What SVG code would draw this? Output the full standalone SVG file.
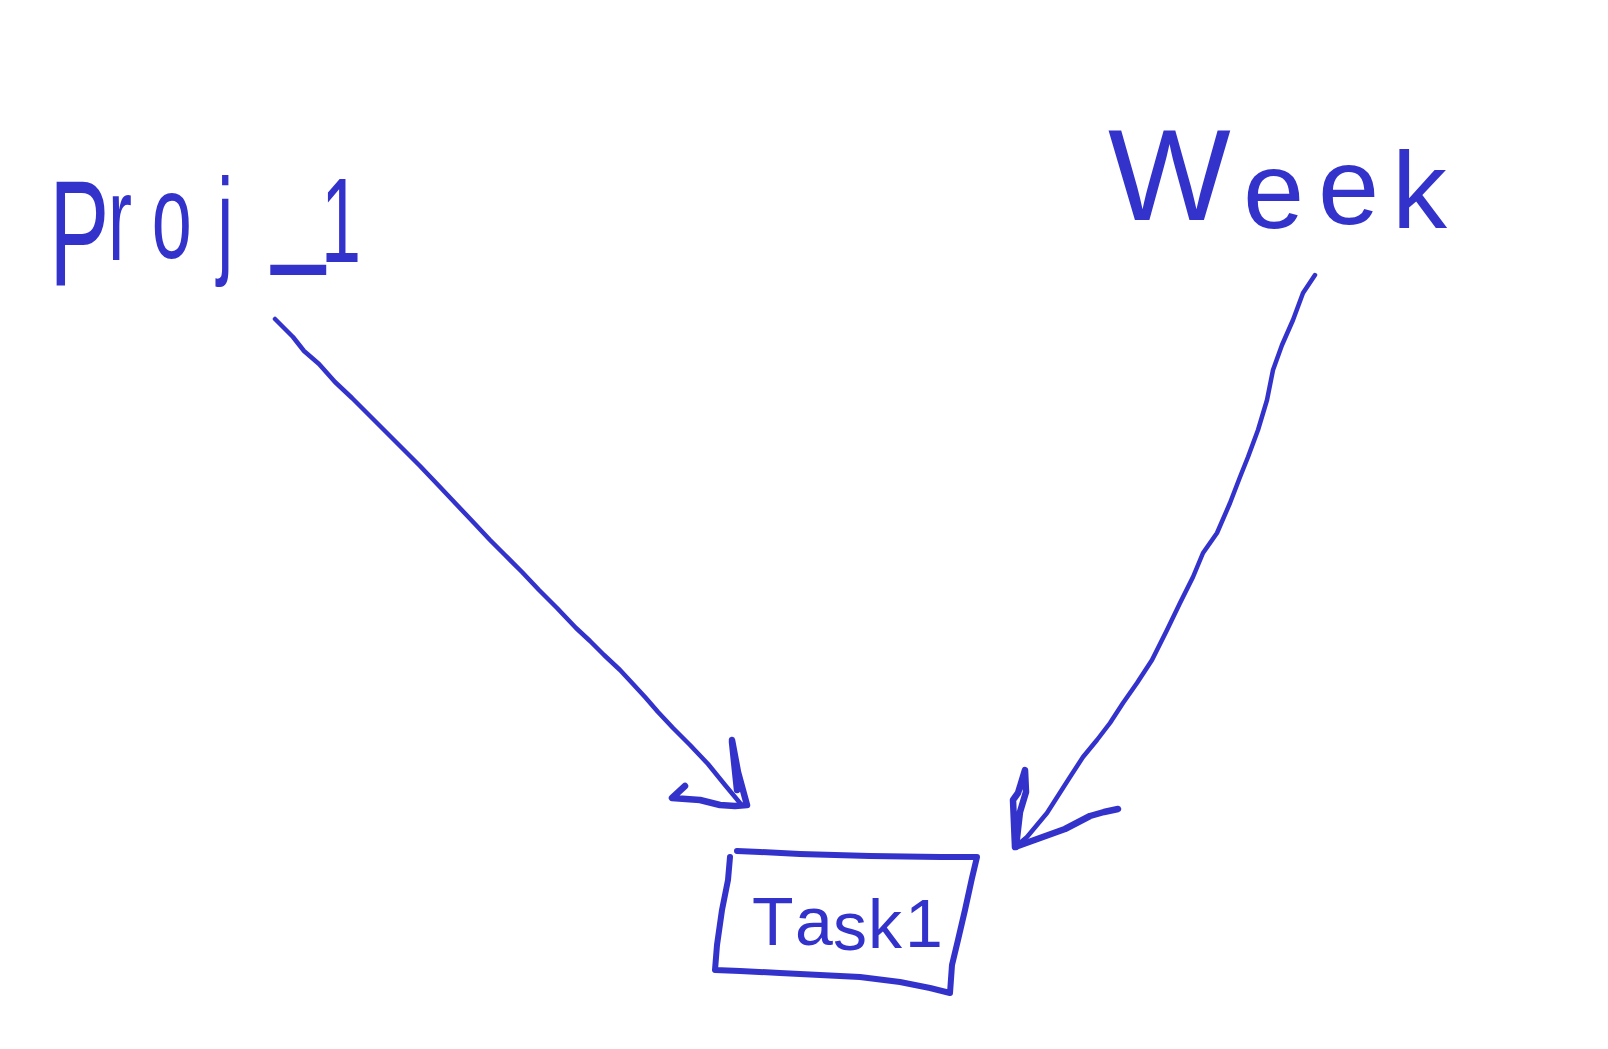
<svg xmlns="http://www.w3.org/2000/svg" width="1608" height="1049" viewBox="0 0 1608 1049">
  <style>
    .ink { fill: none; stroke: #3333cc; stroke-linecap: round; stroke-linejoin: round; }
    .line { stroke-width: 4.5; }
    .head { stroke-width: 6.5; }
    .box { stroke-width: 6; }
    .lbl { fill: #3333cc; font-family: "Liberation Sans", Arial, sans-serif; }
  </style>
  <rect width="1608" height="1049" fill="#ffffff"/>

  <g id="connectors">
    <g id="edge-proj-task">
      <path class="ink line" d="M275,319 L293,337 L304,351 L319,364 L335,382 L352,398 L375,421 L400,446 L420,466 L440,487 L457,505 L475,524 L490,540 L505,555 L522,572 L539,590 L557,608 L576,628 L590,641 L604,655 L620,670 L633,684 L645,697 L658,712 L673,728 L690,745 L708,764 L725,785 L740,803"/>
      <path class="ink head" d="M732,740 L738,772 L747,805 M732,742 L737,790 M685,786 L672,798 L700,800 L720,805 L735,806 L747,805"/>
    </g>
    <g id="edge-week-task">
      <path class="ink line" d="M1315,275 L1303,293 L1293,320 L1282,345 L1273,370 L1267,400 L1258,430 L1248,457 L1240,477 L1230,503 L1217,533 L1203,553 L1193,577 L1180,603 L1167,630 L1152,660 L1137,683 L1123,703 L1110,723 L1097,740 L1083,757 L1070,777 L1047,813 L1027,837 L1015,847"/>
      <path class="ink head" d="M1015,847 L1013,800 L1018,793 L1025,770 L1026,792 L1020,812 L1016,847 M1015,847 L1040,838 L1065,829 L1090,816 L1104,812 L1118,809"/>
    </g>
  </g>

  <g id="node-proj">
    <text class="lbl" font-size="120" transform="scale(0.6 1)"><tspan x="82" y="285" font-size="150">P</tspan><tspan x="180" y="260">r</tspan><tspan x="253" y="258">o</tspan><tspan x="362" y="262">j</tspan><tspan x="453" y="243" font-size="160">_</tspan><tspan x="535" y="262">1</tspan></text>
  </g>

  <g id="node-week">
    <text class="lbl" font-size="110"><tspan x="1108" y="220" font-size="130">W</tspan><tspan x="1243" y="228">e</tspan><tspan x="1318" y="224">e</tspan><tspan x="1392" y="228">k</tspan></text>
  </g>

  <g id="node-task">
    <path class="ink box" d="M737,851 L760,852 L800,854 L870,856 L940,857 L977,857 L972,878 L965,910 L958,940 L952,965 L950,993 L930,988 L900,982 L860,977 L820,975 L780,973 L740,971 L715,970 L717,945 L722,910 L728,880 L730,857"/>
    <text class="lbl" font-size="68"><tspan x="752" y="945">T</tspan><tspan x="795" y="945">a</tspan><tspan x="833" y="950">s</tspan><tspan x="868" y="948">k</tspan><tspan x="905" y="947">1</tspan></text>
  </g>
</svg>
